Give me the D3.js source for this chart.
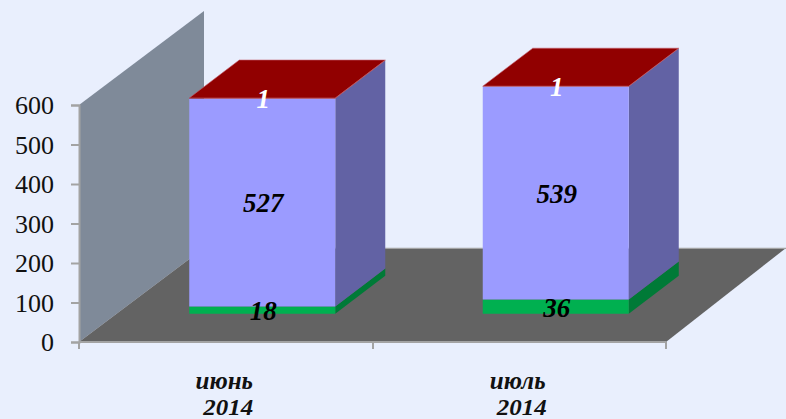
<!DOCTYPE html>
<html><head><meta charset="utf-8">
<script src="https://cdn.jsdelivr.net/npm/d3@7/dist/d3.min.js"></script>
<style>html,body{margin:0;padding:0;background:#E9EFFD}svg{display:block}</style></head>
<body><svg id="c" width="786" height="419"></svg>
<script>
const categories = ["июнь|2014", "июль|2014"];
const greenValues = [18, 36];
const blueValues = [527, 539];
const redValues = [1, 1];
const yTicks = [0, 100, 200, 300, 400, 500, 600];
const seriesColors = [
  {front:"#00B050", side:"#007A37", top:"#00B050", text:"#000"},
  {front:"#9B9BFF", side:"#6262A4", top:"#9B9BFF", text:"#000"},
  {front:"#910000", side:"#910000", top:"#910000", text:"#fff"}
];
const series = [greenValues, blueValues, redValues];

const svg = d3.select("#c");
const FONT = "'Liberation Serif','Times New Roman',serif";
const x = d3.scaleBand().domain(categories).range([79, 666]);
const y = d3.scaleLinear().domain([0, 600]).range([342, 105]);
const DX = 125, DY = 94;
const barW = 146, bx = 36.5, by = 28.3, bdx = 50, bdy = 38;
const line = pts => "M" + pts.map(p => p.join(",")).join("L") + "Z";
const GREY = "#A3A3A3";

svg.append("path").attr("fill", "#7F8A99")
  .attr("d", line([[79, y(0)], [79, y(600)], [79 + DX, y(600) - DY], [79 + DX, y(0) - DY]]));
svg.append("path").attr("fill", "#636363")
  .attr("d", line([[79, y(0)], [666, y(0)], [786, y(0) - DY], [79 + DX, y(0) - DY]]));
svg.append("path").attr("fill", "none").attr("stroke", GREY).attr("stroke-width", 1.2)
  .attr("d", `M${79 + DX},${y(0) - DY + .3}H786`);

const gy = svg.append("g").attr("transform", "translate(79,0)")
  .call(d3.axisLeft(y).tickValues(yTicks).tickSize(8).tickPadding(17));
const gx = svg.append("g").attr("transform", `translate(0,${y(0)})`)
  .call(d3.axisBottom(x).tickSize(0).tickFormat(""));
svg.selectAll(".domain").attr("stroke", GREY).attr("stroke-width", 2);
gy.selectAll("line").attr("stroke", GREY).attr("stroke-width", 2);
gy.selectAll("text").attr("font-family", FONT).attr("font-size", 26).attr("fill", "#111").attr("dy", "0.33em");
gx.select(".domain").attr("d", "M79,0H666");
const edgeTicks = [79, 373, 666];
gx.selectAll(".et").data(edgeTicks).enter().append("line").attr("class", "et")
  .attr("x1", d => d).attr("x2", d => d).attr("y1", 0).attr("y2", 7)
  .attr("stroke", GREY).attr("stroke-width", 2);

categories.forEach(c => {
  const [a, b] = c.split("|");
  const cx = x(c) + x.bandwidth() / 2;
  const t = svg.append("g").attr("font-family", FONT).attr("font-style", "italic")
    .attr("font-weight", "bold").attr("fill", "#111");
  t.append("text").attr("x", cx - 1.5).attr("y", 388.5).attr("text-anchor", "middle")
    .attr("font-size", 25).text(a);
  t.append("text").attr("x", cx + 2.5).attr("y", 414.5).attr("text-anchor", "middle")
    .attr("font-size", 23).attr("textLength", 50).attr("lengthAdjust", "spacingAndGlyphs").text(b);
});

categories.forEach((c, i) => {
  const x0 = x(c) + x.bandwidth() / 2 + bx - barW / 2, x1 = x0 + barW;
  let cum = 0;
  const labels = [];
  series.forEach((s, k) => {
    const v = s[i], y0 = y(cum) - by, y1 = y(cum + v) - by, col = seriesColors[k];
    svg.append("path").attr("fill", col.side)
      .attr("d", line([[x1, y0], [x1, y1], [x1 + bdx, y1 - bdy], [x1 + bdx, y0 - bdy]]));
    svg.append("path").attr("fill", col.front)
      .attr("d", line([[x0, y0], [x0, y1], [x1, y1], [x1, y0]]));
    if (k === series.length - 1) {
      svg.append("path").attr("fill", col.top).attr("stroke", "#C4606E").attr("stroke-width", .6)
        .attr("d", line([[x0, y1], [x1, y1], [x1 + bdx, y1 - bdy], [x0 + bdx, y1 - bdy]]));
    }
    labels.push({v, cx: (x0 + x1) / 2 + 1, cy: (y0 + y1) / 2 + 1, col});
    cum += v;
  });
  labels.forEach(l => svg.append("text").attr("x", l.cx).attr("y", l.cy)
    .attr("dy", "0.33em").attr("text-anchor", "middle")
    .attr("font-family", FONT).attr("font-style", "italic").attr("font-weight", "bold")
    .attr("font-size", 27).attr("fill", l.col.text).text(l.v));
});
</script></body></html>
